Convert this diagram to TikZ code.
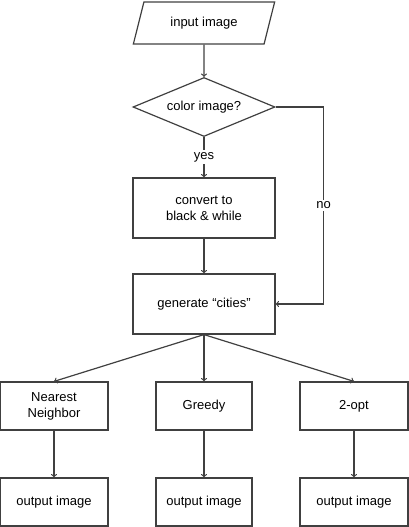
\documentclass[tikz,border=0pt]{standalone}
\usepackage{fontspec}
\setmainfont{Liberation Sans}
\usetikzlibrary{positioning,shapes.geometric,arrows}
\tikzset{
  io/.style={trapezium, trapezium left angle=64, trapezium right angle=116, trapezium stretches=true, draw=black!75, line width=1.2pt, minimum width=142pt, minimum height=42pt, inner sep=0pt},
  test/.style={diamond, aspect=2.4, draw=black!75, line width=1.2pt, minimum width=142pt, minimum height=59pt, inner sep=0pt},
  proc/.style={rectangle, draw=black!75, line width=1.2pt, align=center, minimum width=142pt, minimum height=60pt},
  algo/.style={rectangle, draw=black!75, line width=1.2pt, align=center, minimum width=108pt, minimum height=48pt},
  line/.style={draw=black!75, line width=1.2pt, ->},
  lbl/.style={fill=white, inner sep=2pt},
}
\begin{document}
\begin{tikzpicture}[font=\fontsize{13}{16}\selectfont]
    \useasboundingbox (0pt,0pt) rectangle (408pt,-527pt);

    \node[io] (inp) at (204pt,-23pt) {input image};
    \node[test,below of=inp,node distance=84pt] (col) {color image?};
    \node[proc,below of=col,node distance=101pt] (conv) {convert to\\black \& while};
    \node[proc,below of=conv,node distance=96pt] (gen) {generate “cities”};

    \node[algo,minimum width=96pt,below of=gen,node distance=102pt] (greedy) {Greedy};
    \node[algo,left of=greedy,node distance=150pt] (nn) {Nearest\\Neighbor};
    \node[algo,right of=greedy,node distance=150pt] (opt) {2-opt};

    \node[algo,below of=nn,node distance=96pt] (outnn) {output image};
    \node[algo,minimum width=96pt,below of=greedy,node distance=96pt] (outgreedy) {output image};
    \node[algo,below of=opt,node distance=96pt] (outopt) {output image};

    \path[line] (inp) -- (col);
    \path[line] (col) -- node[lbl] {yes} (conv);
    \path[line] (col.east) -- ++(48pt,0pt) |- node[lbl,pos=0.25] {no} (gen);
    \path[line] (conv) -- (gen);

    \path[line] (gen.south) -- (nn.north);
    \path[line] (gen.south) -- (greedy.north);
    \path[line] (gen.south) -- (opt.north);

    \path[line] (nn) -- (outnn);
    \path[line] (greedy) -- (outgreedy);
    \path[line] (opt) -- (outopt);
\end{tikzpicture}
\end{document}
